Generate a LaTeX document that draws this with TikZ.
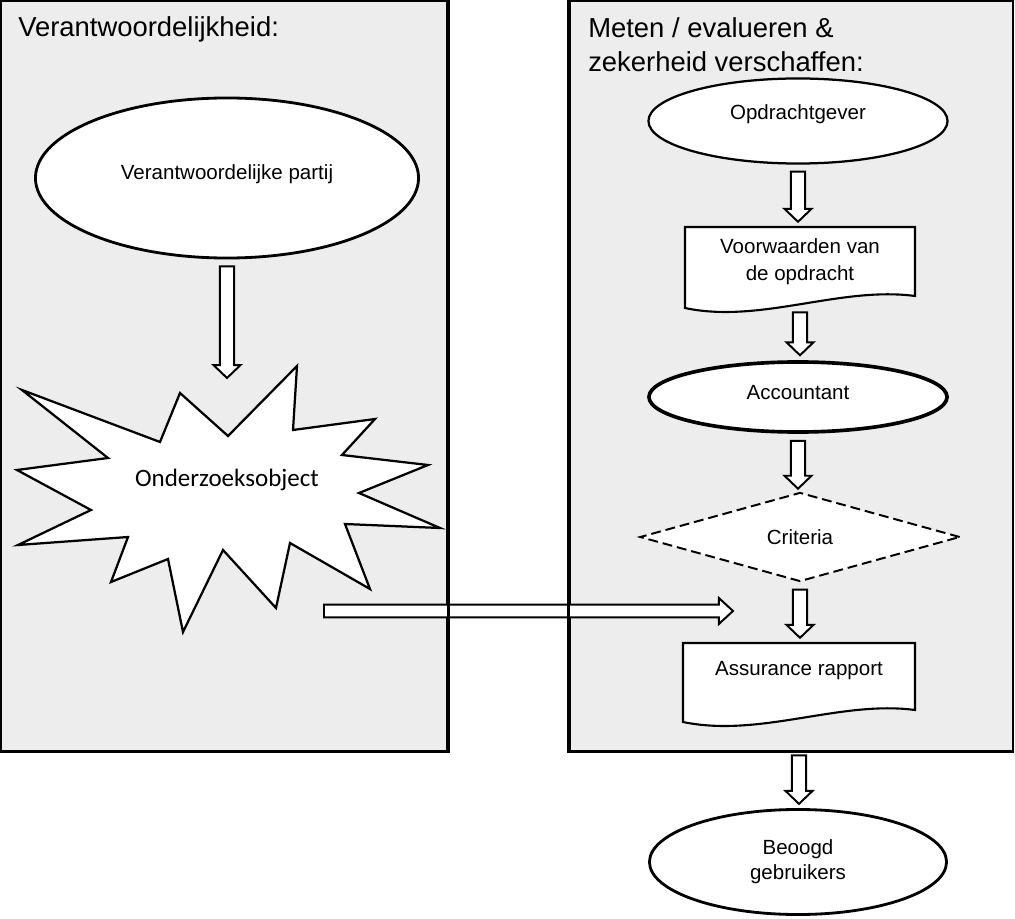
\documentclass[tikz,border=0pt]{standalone}
\usepackage{fontspec}
\setmainfont{Liberation Sans}
\newfontfamily\burstfont{Carlito}
\usetikzlibrary{shapes.geometric,calc}
\definecolor{panelgray}{RGB}{237,237,237}

\begin{document}
\begin{tikzpicture}
[x=0.025cm,y=-0.025cm,
panel/.style={draw,fill=panelgray,line width=2pt,inner sep=0pt,minimum height=18.75cm},
paneltitle/.style={inner sep=0pt,align=left,font=\fontsize{19.5}{24.2}\selectfont},
oval/.style={ellipse,draw,fill=white,line width=1.6pt,inner sep=0pt,align=center,
  font=\fontsize{14.6}{17.8}\selectfont},
doctext/.style={inner sep=0pt,minimum width=5.8cm,align=center,
  font=\fontsize{14.6}{19.2}\selectfont},
docline/.style={draw,fill=white,line width=1.5pt},
blockdown/.style={draw,fill=white,line width=1.4pt,
  to path={let \p1=(\tikztostart), \p2=(\tikztotarget) in
    (\x1-5pt,\y1) -- (\x1+5pt,\y1) -- (\x1+5pt,\y2+9.2pt) -- (\x1+9.6pt,\y2+9.2pt)
    -- (\x1,\y2) -- (\x1-9.6pt,\y2+9.2pt) -- (\x1-5pt,\y2+9.2pt) -- cycle}},
blockright/.style={draw,fill=white,line width=1.4pt,
  to path={let \p1=(\tikztostart), \p2=(\tikztotarget) in
    (\x1,\y1+4.6pt) -- (\x2-10pt,\y1+4.6pt) -- (\x2-10pt,\y1+9.2pt) -- (\x2,\y1)
    -- (\x2-10pt,\y1-9.2pt) -- (\x2-10pt,\y1-4.6pt) -- (\x1,\y1-4.6pt) -- cycle}}]
\useasboundingbox (0,0) rectangle (1015,919);

% the two panels
\node[panel,minimum width=11.15cm] (leftpanel) at (224,376) {};
\node[panel,minimum width=11.075cm] (rightpanel) at (791.5,376) {};
\node[paneltitle,anchor=base west] (lefttitle) at (18,37) {Verantwoordelijkheid:};
\node[paneltitle,anchor=north west] (righttitle) at (588,17) {Meten / evalueren \&\\zekerheid verschaffen:};

% left side
\node[oval,minimum width=9.575cm,minimum height=4cm,line width=2pt,text depth=8.8pt] (partij) at (227,178) {Verantwoordelijke partij};
\filldraw[fill=white,line width=1.6pt] (22,390) -- (160,442) -- (180,393) -- (228,436) -- (297,366)
  -- (293,430) -- (375,419) -- (342,455) -- (428,465) -- (359,493) -- (440,528) -- (345,524)
  -- (370,589) -- (290,543) -- (276,608) -- (223,550) -- (183,632) -- (168,559) -- (111,582)
  -- (128,537) -- (18,545) -- (91,510) -- (17,470) -- (108,458) -- cycle;
\node[font=\burstfont\fontsize{17.8}{20}\selectfont] (object) at (227,480) {Onderzoeksobject};
\coordinate (objecttop) at (228,378);
\coordinate (objectright) at (324,611);

% right side
\node[oval,minimum width=7.475cm,minimum height=2.125cm,text depth=13pt] (opdrachtgever) at (798,121) {Opdrachtgever};
\filldraw[docline] (685,227) -- (915,227) -- (915,296) .. controls (840,286) and (760,324) .. (685,308) -- cycle;
\node[doctext,minimum height=1.75cm] (voorwaarden) at (800,262) {Voorwaarden van\\de opdracht};
\node[oval,minimum width=7.45cm,minimum height=1.75cm,line width=2.6pt,text depth=7.2pt] (accountant) at (798,397) {Accountant};
\node[diamond,draw,fill=white,line width=1.4pt,dash pattern=on 7pt off 3.5pt,inner sep=0pt,
  minimum width=8cm,minimum height=2.225cm,font=\fontsize{14.6}{17.8}\selectfont] (criteria) at (800,537) {Criteria};
\filldraw[docline] (683,643) -- (915,643) -- (915,710) .. controls (840,700) and (760,738) .. (683,722) -- cycle;
\node[doctext,minimum height=1.95cm,text depth=20pt] (rapport) at (799,682) {Assurance rapport};
\coordinate (rapportleft) at (733,611);
\node[oval,minimum width=7.425cm,minimum height=2.625cm,line width=2pt] (gebruikers) at (798,862) {Beoogd\\gebruikers};

% arrows
\draw[blockdown] ([yshift=-5pt]partij.south) to (objecttop);
\draw[blockdown] ([yshift=-5pt]opdrachtgever.south) to ([yshift=3.5pt]voorwaarden.north);
\draw[blockdown] ([yshift=-10.7pt]voorwaarden.south) to ([yshift=3.5pt]accountant.north);
\draw[blockdown] ([yshift=-5pt]accountant.south) to ([yshift=2pt]criteria.north);
\draw[blockdown] ([yshift=-5pt]criteria.south) to ([yshift=3.5pt]rapport.north);
\draw[blockdown] ([yshift=-24.2pt]rapport.south) to ([yshift=3pt]gebruikers.north);
\draw[blockright] (objectright) to (rapportleft);
\draw[line width=2pt] (leftpanel.north east) -- (leftpanel.south east)
  (rightpanel.north west) -- (rightpanel.south west);
\end{tikzpicture}
\end{document}
